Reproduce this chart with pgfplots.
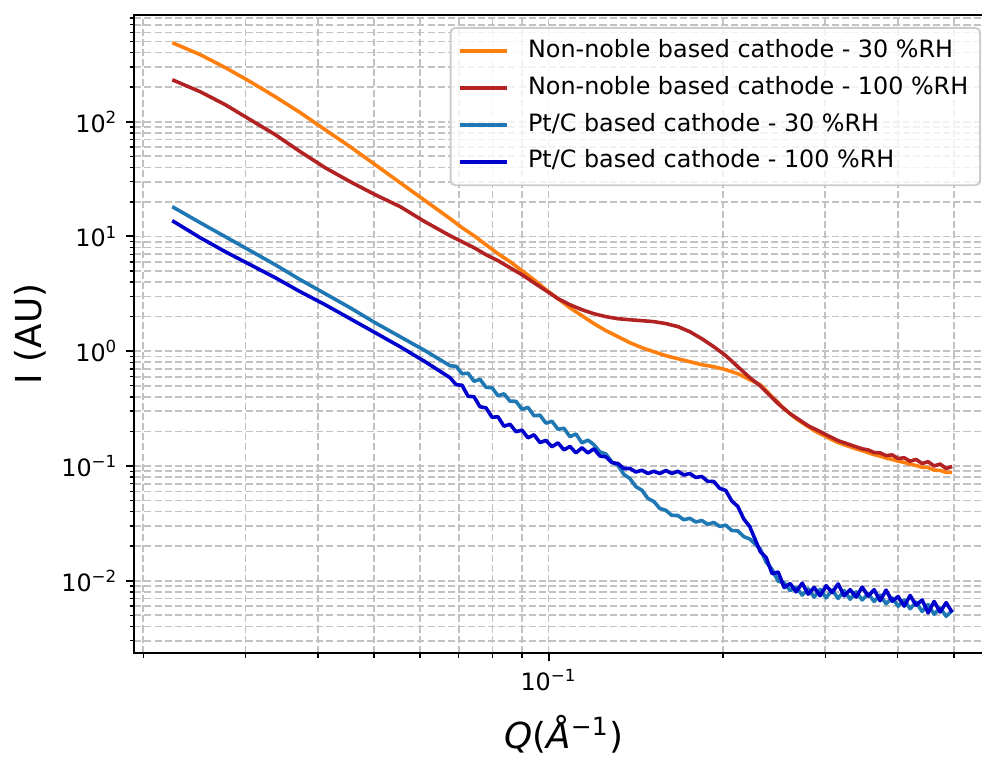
\documentclass[border=0pt]{standalone}
\usepackage{fontspec}
\setmainfont{DejaVu Sans}[ItalicFont={DejaVu Sans Oblique}]
\usepackage{pgfplots}
\pgfplotsset{compat=1.18}
\definecolor{c1}{HTML}{FF7F0E}
\definecolor{c2}{HTML}{B22222}
\definecolor{c3}{HTML}{1F77B4}
\definecolor{c4}{HTML}{0000CD}
\definecolor{gridc}{HTML}{C2C2C2}
\begin{document}
\begin{tikzpicture}
\begin{axis}[
  name=ax,
  xmode=log, ymode=log,
  scale only axis,
  width=360.05pt, height=267.4pt,
  xmin=0.0193, xmax=0.5841, ymin=0.002358, ymax=850.6,
  xtick={0.1}, xticklabels={10\textsuperscript{−1}},
  minor xtick={0.02,0.03,0.04,0.05,0.06,0.07,0.08,0.09,0.2,0.3,0.4,0.5},
  ytick={0.01,0.1,1,10,100},
  yticklabels={10\textsuperscript{−2},10\textsuperscript{−1},10\textsuperscript{0},10\textsuperscript{1},10\textsuperscript{2}},
  minor ytick={0.003,0.004,0.005,0.006,0.007,0.008,0.009,0.02,0.03,0.04,0.05,0.06,0.07,0.08,0.09,0.2,0.3,0.4,0.5,0.6,0.7,0.8,0.9,2,3,4,5,6,7,8,9,20,30,40,50,60,70,80,90,200,300,400,500,600,700,800},
  tick pos=left, tick align=outside,
  major tick length=3.5pt, minor tick length=2pt,
  tick style={black, line width=0.8pt},
  minor tick style={black, line width=0.6pt},
  axis line style={line width=0.8pt},
  grid=both,
  major grid style={draw=gridc, line width=0.7pt, dash pattern=on 2.96pt off 1.28pt},
  minor grid style={draw=gridc, line width=0.7pt, dash pattern=on 2.96pt off 1.28pt},
  xlabel={\textit{Q}(\textit{Å}\textsuperscript{−1})},
  ylabel={I (AU)},
  every axis label/.append style={font=\fontsize{15}{18}\selectfont},
  every axis y label/.style={at={(axis description cs:-0.1211,0.5)}, rotate=90, anchor=center},
  every axis x label/.style={at={(axis description cs:0.5,-0.1496)}, anchor=base},
  legend style={at={(1,1)}, anchor=north east, xshift=-5pt, yshift=-5pt, draw=black!20, line width=0.8pt, rounded corners=2pt, fill=white, fill opacity=0.8, text opacity=1, font=\fontsize{10}{12}\selectfont, inner xsep=3pt, inner ysep=2pt, row sep=0pt, nodes={inner ysep=2.75pt, text height=7.5pt, text depth=2.5pt}, /tikz/every odd column/.append style={column sep=6pt}},
  legend cell align=left,
  legend image code/.code={\draw[#1] (0pt,0pt) -- (20pt,0pt);},
]
% Non-noble 30 %RH
\addplot[color=c1, line width=1.5pt, line join=round] coordinates {
(0.02244,488) (0.02507,384) (0.02770,296) (0.03059,223) (0.03378,165) (0.03730,120) (0.04119,85) (0.04548,60.5) (0.05023,42.2) (0.05546,29.4) (0.06125,20.5)
(0.06763,14.3) (0.07093,11.92) (0.07438,10.15) (0.07801,8.47) (0.08181,7.07) (0.08580,6.03) (0.08998,5.03) (0.09437,4.20) (0.09897,3.44) (0.10380,2.87) (0.10886,2.39) (0.11417,2.04) (0.11973,1.74) (0.12557,1.51) (0.13169,1.34) (0.13811,1.186) (0.14485,1.073) (0.15191,0.99) (0.15932,0.914) (0.16709,0.86) (0.17523,0.81) (0.18378,0.763) (0.19274,0.733) (0.20214,0.69) (0.21200,0.637) (0.22233,0.565)
(0.2317,0.511) (0.2373,0.453) (0.2430,0.401) (0.2489,0.356) (0.2549,0.315) (0.2610,0.285) (0.2673,0.258) (0.2738,0.238) (0.2803,0.220) (0.2871,0.203) (0.2940,0.191) (0.3011,0.180) (0.3084,0.169) (0.3158,0.160) (0.3234,0.153) (0.3312,0.147) (0.3392,0.141) (0.3474,0.136) (0.3558,0.1305) (0.3643,0.1255) (0.3731,0.1220) (0.3821,0.1170) (0.3913,0.1140) (0.4008,0.1100) (0.4104,0.1075) (0.4203,0.1035) (0.4304,0.1010) (0.4408,0.0975) (0.4514,0.0970) (0.4623,0.0920) (0.4735,0.0915) (0.4849,0.0880) (0.4966,0.0880)
};
\addlegendentry{Non-noble based cathode - 30 \%RH}
% Non-noble 100 %RH
\addplot[color=c2, line width=1.5pt, line join=round] coordinates {
(0.02244,232) (0.02507,182.5) (0.02770,140.6) (0.03059,104) (0.03378,77.1) (0.03730,54.8) (0.04119,39.7) (0.04548,30.0) (0.05023,23.1) (0.05546,18.2) (0.06125,13.4)
(0.06763,10.15) (0.07093,9.0) (0.07438,7.98) (0.07801,6.93) (0.08181,6.15) (0.08580,5.34) (0.08998,4.64) (0.09437,3.95) (0.09897,3.37) (0.10380,2.87) (0.10886,2.54) (0.11417,2.30) (0.11973,2.12) (0.12557,2.00) (0.13169,1.92) (0.13811,1.88) (0.14485,1.845) (0.15191,1.81) (0.15932,1.74) (0.16709,1.64) (0.17523,1.479) (0.18378,1.285) (0.19274,1.094) (0.20214,0.914) (0.21200,0.733) (0.22233,0.588)
(0.2317,0.500) (0.2373,0.4436) (0.2430,0.3935) (0.2489,0.3487) (0.2549,0.315) (0.2610,0.285) (0.2673,0.2633) (0.2738,0.243) (0.2803,0.2243) (0.2871,0.2112) (0.2940,0.199) (0.3011,0.1872) (0.3084,0.1763) (0.3158,0.166) (0.3234,0.1594) (0.3312,0.153) (0.3392,0.147) (0.3474,0.141) (0.3558,0.138) (0.3643,0.1310) (0.3731,0.130) (0.3821,0.1230) (0.3913,0.1250) (0.4008,0.1160) (0.4104,0.1180) (0.4203,0.1100) (0.4304,0.1140) (0.4408,0.1050) (0.4514,0.1090) (0.4623,0.1000) (0.4735,0.1040) (0.4849,0.0950) (0.4966,0.0990)
};
\addlegendentry{Non-noble based cathode - 100 \%RH}
% Pt/C 30 %RH
\addplot[color=c3, line width=1.5pt, line join=round] coordinates {
(0.02244,18.17) (0.02507,13.18) (0.02770,9.95) (0.03059,7.51) (0.03378,5.67) (0.03730,4.20) (0.04119,3.17) (0.04548,2.39) (0.05023,1.77) (0.05546,1.338) (0.06125,1.010)
(0.06763,0.747) (0.06926,0.739) (0.07093,0.636) (0.07264,0.643) (0.07438,0.547) (0.07617,0.569) (0.07801,0.485) (0.07989,0.480) (0.08181,0.409) (0.08378,0.425) (0.08580,0.367) (0.08787,0.366) (0.08998,0.312) (0.09215,0.324) (0.09437,0.274) (0.09664,0.277) (0.09897,0.236) (0.10136,0.245) (0.10380,0.209) (0.10630,0.213) (0.10886,0.180) (0.11148,0.190) (0.11417,0.159) (0.11692,0.168) (0.11973,0.153) (0.12262,0.1326) (0.12557,0.1272) (0.12860,0.1082) (0.13169,0.1015) (0.13486,0.0843) (0.13811,0.0778) (0.14144,0.0660) (0.14485,0.0615) (0.14834,0.0521) (0.15191,0.0490) (0.15557,0.0426) (0.15932,0.0411) (0.16316,0.0371) (0.16709,0.0370) (0.17112,0.0340) (0.17523,0.0350) (0.17945,0.0325) (0.18378,0.0335) (0.18821,0.0310) (0.19274,0.0322) (0.19739,0.0297) (0.20214,0.0305) (0.20701,0.0274) (0.21200,0.0272) (0.21711,0.0242) (0.22233,0.0231)
(0.2317,0.0190) (0.2373,0.0145) (0.2430,0.0125) (0.2489,0.0099) (0.2549,0.0096) (0.2610,0.0082) (0.2673,0.0088) (0.2738,0.0075) (0.2803,0.0085) (0.2871,0.0072) (0.2940,0.0084) (0.3011,0.0071) (0.3084,0.0083) (0.3158,0.0070) (0.3234,0.0082) (0.3312,0.0069) (0.3392,0.0080) (0.3474,0.0068) (0.3558,0.0077) (0.3643,0.0066) (0.3731,0.0075) (0.3821,0.0063) (0.3913,0.0071) (0.4008,0.0060) (0.4104,0.0068) (0.4203,0.0057) (0.4304,0.0065) (0.4408,0.0054) (0.4514,0.0062) (0.4623,0.0051) (0.4735,0.0058) (0.4849,0.0049) (0.4966,0.0055)
};
\addlegendentry{Pt/C based cathode - 30 \%RH}
% Pt/C 100 %RH
\addplot[color=c4, line width=1.5pt, line join=round] coordinates {
(0.02244,13.72) (0.02507,9.75) (0.02770,7.36) (0.03059,5.67) (0.03378,4.37) (0.03730,3.30) (0.04119,2.54) (0.04548,1.92) (0.05023,1.45) (0.05546,1.094) (0.06125,0.810)
(0.06763,0.588) (0.06926,0.511) (0.07093,0.505) (0.07264,0.405) (0.07438,0.401) (0.07617,0.328) (0.07801,0.321) (0.07989,0.266) (0.08181,0.268) (0.08378,0.222) (0.08580,0.231) (0.08787,0.199) (0.08998,0.205) (0.09215,0.176) (0.09437,0.187) (0.09664,0.160) (0.09897,0.167) (0.10136,0.147) (0.10380,0.159) (0.10630,0.138) (0.10886,0.148) (0.11148,0.130) (0.11417,0.144) (0.11692,0.130) (0.11973,0.141) (0.12262,0.122) (0.12557,0.120) (0.12860,0.107) (0.13169,0.105) (0.13486,0.0951) (0.13811,0.0951) (0.14144,0.0886) (0.14485,0.0918) (0.14834,0.0860) (0.15191,0.0899) (0.15557,0.0860) (0.15932,0.0913) (0.16316,0.0860) (0.16709,0.0899) (0.17112,0.0835) (0.17523,0.0860) (0.17945,0.0794) (0.18378,0.0810) (0.18821,0.0733) (0.19274,0.0733) (0.19739,0.0637) (0.20214,0.0612) (0.20701,0.0495) (0.21200,0.0444) (0.21711,0.0345) (0.22233,0.0296)
(0.2317,0.0180) (0.2373,0.0159) (0.2430,0.0115) (0.2489,0.0119) (0.2549,0.00873) (0.2610,0.00945) (0.2673,0.00800) (0.2738,0.00952) (0.2803,0.00764) (0.2871,0.00874) (0.2940,0.00739) (0.3011,0.00905) (0.3084,0.00789) (0.3158,0.00938) (0.3234,0.00738) (0.3312,0.00836) (0.3392,0.00721) (0.3474,0.00880) (0.3558,0.00735) (0.3643,0.00835) (0.3731,0.00669) (0.3821,0.00829) (0.3913,0.00662) (0.4008,0.00728) (0.4104,0.00600) (0.4203,0.00744) (0.4304,0.00611) (0.4408,0.00680) (0.4514,0.00525) (0.4623,0.00660) (0.4735,0.00534) (0.4849,0.00644) (0.4966,0.00532)
};
\addlegendentry{Pt/C based cathode - 100 \%RH}
\end{axis}
\pgfresetboundingbox
\path[use as bounding box] ([xshift=-56.31pt,yshift=-44.15pt]ax.south west) rectangle ([xshift=355.44pt,yshift=6.29pt]ax.north west);
\end{tikzpicture}
\end{document}
